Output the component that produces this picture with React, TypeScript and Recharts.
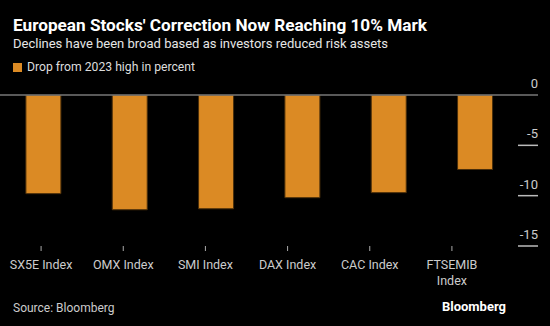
import React from "react";
import { BarChart, Bar, XAxis, YAxis, ReferenceLine } from "recharts";

const categories = ["SX5E Index", "OMX Index", "SMI Index", "DAX Index", "CAC Index", "FTSEMIB Index"];
const drops = [-9.8, -11.4, -11.3, -10.2, -9.7, -7.4];
const yTicks = [0, -5, -10, -15];

const data = categories.map((name, i) => ({ name, value: drops[i] }));

const FONT = "'Roboto', 'DejaVu Sans', sans-serif";

const YTick = (props: any) => {
  const { x, y, payload } = props;
  const isZero = payload.value === 0;
  return (
    <g>
      <line x1={x} x2={x + 20} y1={y} y2={y} stroke={isZero ? "#777" : "#bbb"} strokeWidth={1.5} />
      <text x={x + 20} y={y - 7} textAnchor="end" fill="#ccc" fontSize={13} fontFamily={FONT}>
        {payload.value}
      </text>
    </g>
  );
};

const XTick = (props: any) => {
  const { x, y, payload } = props;
  const label: string = String(payload.value);
  const lines = label.length > 10 ? [label.slice(0, label.lastIndexOf(" ")), label.slice(label.lastIndexOf(" ") + 1)] : [label];
  return (
    <text x={x} y={y + 16} textAnchor="middle" fill="#ccc" fontSize={12.5} fontFamily={FONT}>
      {lines.map((l, i) => (
        <tspan key={i} x={x} dy={i === 0 ? 0 : 16}>
          {l}
        </tspan>
      ))}
    </text>
  );
};

export default function App() {
  return (
    <div
      style={{
        position: "absolute",
        left: 0,
        top: 0,
        width: 550,
        height: 326,
        background: "#000",
        overflow: "hidden",
      }}
    >
      <div
        style={{
          position: "absolute",
          left: 13,
          top: 15,
          color: "#fff",
          fontFamily: "'Roboto', sans-serif",
          fontWeight: 700,
          fontSize: 17.2,
          whiteSpace: "nowrap",
        }}
      >
        European Stocks' Correction Now Reaching 10% Mark
      </div>
      <div
        style={{
          position: "absolute",
          left: 13,
          top: 36,
          color: "#e6e6e6",
          fontFamily: FONT,
          fontSize: 13,
          whiteSpace: "nowrap",
        }}
      >
        Declines have been broad based as investors reduced risk assets
      </div>
      <div
        style={{
          position: "absolute",
          left: 13,
          top: 60,
          display: "flex",
          alignItems: "center",
          color: "#ddd",
          fontFamily: FONT,
          fontSize: 12.2,
          whiteSpace: "nowrap",
        }}
      >
        <span style={{ display: "inline-block", width: 9, height: 9, background: "#DB8A24", marginRight: 5 }} />
        Drop from 2023 high in percent
      </div>
      <BarChart
        width={550}
        height={326}
        data={data}
        margin={{ top: 95, right: 0, bottom: 0, left: 0 }}
        barCategoryGap="30%"
      >
        <XAxis xAxisId="bars" dataKey="name" hide height={0} />
        <XAxis
          xAxisId="labels"
          dataKey="name"
          axisLine={false}
          tickLine={{ stroke: "#aaa" }}
          tickSize={5}
          tick={<XTick />}
          interval={0}
          padding={{ left: 0, right: 25 }}
          height={80}
        />
        <YAxis
          orientation="right"
          width={32}
          domain={[-15, 0]}
          ticks={yTicks}
          axisLine={false}
          tickLine={false}
          tickSize={0}
          tickMargin={0}
          tick={<YTick />}
          allowDataOverflow
        />
        <ReferenceLine xAxisId="bars" y={0} stroke="#777" strokeWidth={1.5} />
        <Bar
          xAxisId="bars"
          dataKey="value"
          fill="#DB8A24"
          stroke="#4a2e0a"
          strokeWidth={1}
          isAnimationActive={false}
        />
      </BarChart>
      <div
        style={{
          position: "absolute",
          left: 13,
          top: 301,
          color: "#ccc",
          fontFamily: FONT,
          fontSize: 12,
          whiteSpace: "nowrap",
        }}
      >
        Source: Bloomberg
      </div>
      <div
        style={{
          position: "absolute",
          right: 44,
          top: 299,
          color: "#fff",
          fontFamily: "'Roboto', sans-serif",
          fontWeight: 700,
          fontSize: 13,
          whiteSpace: "nowrap",
        }}
      >
        Bloomberg
      </div>
    </div>
  );
}
